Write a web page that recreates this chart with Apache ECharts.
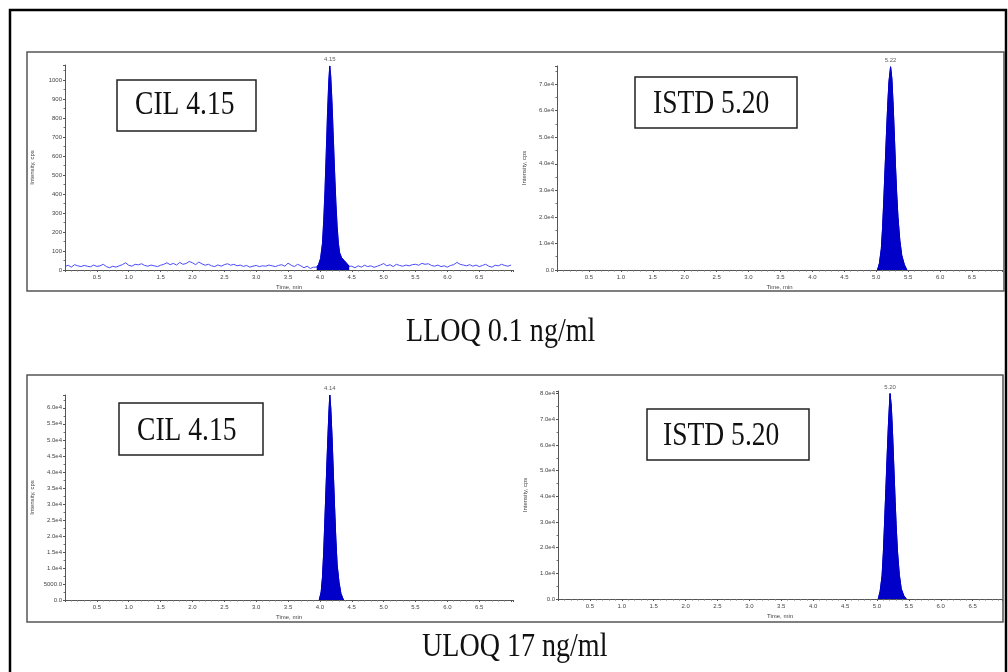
<!DOCTYPE html>
<html>
<head>
<meta charset="utf-8">
<title>CIL / ISTD chromatograms</title>
<script src="https://cdn.jsdelivr.net/npm/echarts@6/dist/echarts.min.js"></script>
<style>
  html, body { margin: 0; padding: 0; background: #fff; }
  #chart { width: 1008px; height: 672px; }
</style>
</head>
<body>
<div id="chart"></div>
<script>
// tick labels on the time axis
var timeTicks = [0.5, 1.0, 1.5, 2.0, 2.5, 3.0, 3.5, 4.0, 4.5, 5.0, 5.5, 6.0, 6.5];

// LLOQ CIL baseline noise, sampled every 0.05 min (0.00 - 3.90 and 4.50 - 7.00)
var noiseStep = 0.05;
var noiseA = [18, 25, 15, 28, 22, 18, 24, 20, 17, 26, 19, 22, 30, 18, 12, 20, 15, 22, 28, 38,
              25, 20, 30, 27, 33, 24, 20, 26, 22, 18, 25, 30, 38, 28, 35, 26, 40, 30, 34, 45,
              38, 28, 42, 32, 25, 30, 22, 18, 27, 20, 28, 33, 25, 30, 22, 26, 19, 24, 15, 20,
              24, 18, 22, 20, 26, 22, 18, 24, 28, 20, 36, 25, 18, 30, 22, 12, 20, 8, 15];
var noiseB = [20, 12, 22, 15, 25, 18, 22, 14, 20, 26, 34, 22, 28, 18, 30, 24, 20, 26, 22, 28,
              30, 25, 35, 30, 33, 24, 20, 26, 18, 22, 15, 24, 28, 40, 30, 26, 22, 28, 20, 26,
              18, 24, 30, 20, 15, 25, 22, 30, 24, 20, 26];

// peaks: retention times (min) and intensities (cps)
var lloqCilTime = [3.95, 3.98, 4.01, 4.04, 4.06, 4.08, 4.10, 4.12, 4.14, 4.155, 4.17, 4.19, 4.21, 4.23, 4.25, 4.27, 4.29, 4.31, 4.34, 4.38, 4.42, 4.46];
var lloqCilInt  = [15, 30, 60, 140, 260, 420, 620, 830, 1000, 1075, 1020, 880, 700, 520, 360, 230, 140, 90, 65, 50, 35, 20];

var lloqIstdTime = [5.02, 5.05, 5.08, 5.10, 5.12, 5.14, 5.16, 5.18, 5.20, 5.225, 5.245, 5.265, 5.285, 5.30, 5.32, 5.34, 5.37, 5.40, 5.44, 5.48];
var lloqIstdInt  = [0, 2500, 8000, 16000, 27000, 39000, 51000, 62000, 71000, 76500, 72000, 62000, 50000, 40000, 29000, 20000, 11000, 5500, 2000, 0];

var uloqCilTime = [3.99, 4.02, 4.04, 4.06, 4.08, 4.10, 4.12, 4.14, 4.155, 4.17, 4.19, 4.21, 4.23, 4.25, 4.27, 4.30, 4.33, 4.37];
var uloqCilInt  = [0, 2500, 7000, 15000, 26000, 37000, 48000, 58000, 64000, 60000, 51000, 40000, 29000, 19000, 11000, 5500, 2000, 0];

var uloqIstdTime = [5.02, 5.05, 5.08, 5.10, 5.12, 5.14, 5.16, 5.18, 5.205, 5.225, 5.245, 5.265, 5.285, 5.30, 5.32, 5.35, 5.38, 5.42, 5.46];
var uloqIstdInt  = [0, 3000, 9000, 18000, 30000, 43000, 56000, 68000, 80000, 75000, 64000, 51000, 38000, 29000, 19000, 9500, 4000, 1300, 0];

// peak apex labels and panel captions
var apexLabels = ['4.15', '5.22', '4.14', '5.20'];
var boxLabels = ['CIL 4.15', 'ISTD 5.20', 'CIL 4.15', 'ISTD 5.20'];
var levelLabels = ['LLOQ 0.1 ng/ml', 'ULOQ 17 ng/ml'];

function zip(t, v) {
  return t.map(function (x, i) { return [x, v[i]]; });
}

function noiseTrace(values, t0) {
  return values.map(function (v, i) { return [+(t0 + i * noiseStep).toFixed(2), v]; });
}

var peaks = [
  zip(lloqCilTime, lloqCilInt),
  zip(lloqIstdTime, lloqIstdInt),
  zip(uloqCilTime, uloqCilInt),
  zip(uloqIstdTime, uloqIstdInt)
];

// only the LLOQ analyte trace has visible baseline noise
var traces = [
  noiseTrace(noiseA, 0).concat(peaks[0], noiseTrace(noiseB, 4.5)),
  peaks[1],
  peaks[2],
  peaks[3]
];

var grids = [
  { left: 65, top: 65, width: 448, height: 205 },
  { left: 557, top: 66, width: 445, height: 204 },
  { left: 65, top: 395, width: 448, height: 205 },
  { left: 558, top: 391, width: 444, height: 208 }
];
var xMax = [7.03, 6.97, 7.03, 6.96];
var yMax = [1080, 76800, 64000, 81000];
var yStep = [100, 10000, 5000, 10000];

var axisGrey = '#555';
var tickFont = { fontSize: 6, color: '#444', fontFamily: 'Liberation Sans' };

function yFormatter(k) {
  return function (v) {
    if (Math.abs(v % yStep[k]) > 1e-6) return '';
    if (k === 0) return String(v);
    if (v === 0) return '0.0';
    if (v < 10000) return v.toFixed(1);
    return (v / 10000).toFixed(1) + 'e4';
  };
}

function xFormatter(v) {
  for (var i = 0; i < timeTicks.length; i++) {
    if (Math.abs(timeTicks[i] - v) < 1e-6) return timeTicks[i].toFixed(1);
  }
  return '';
}

var xAxes = [], yAxes = [], series = [];
grids.forEach(function (g, k) {
  xAxes.push({
    gridIndex: k, type: 'value', min: 0, max: xMax[k], interval: 0.5,
    name: 'Time, min', nameLocation: 'middle', nameGap: 14,
    nameTextStyle: tickFont,
    axisLine: { show: true, onZero: false, lineStyle: { color: axisGrey, width: 1 } },
    axisTick: { show: true, length: 2, lineStyle: { color: axisGrey } },
    minorTick: { show: true, splitNumber: 5, length: 1.5, lineStyle: { color: '#777' } },
    axisLabel: Object.assign({ margin: 4, formatter: xFormatter }, tickFont),
    splitLine: { show: false }
  });
  yAxes.push({
    gridIndex: k, type: 'value', min: 0, max: yMax[k], interval: yStep[k],
    name: 'Intensity, cps', nameLocation: 'middle', nameGap: 30,
    nameTextStyle: tickFont,
    axisLine: { show: true, lineStyle: { color: axisGrey, width: 1 } },
    axisTick: { show: true, length: 2, lineStyle: { color: axisGrey } },
    minorTick: { show: true, splitNumber: 2, length: 1.5, lineStyle: { color: '#777' } },
    axisLabel: Object.assign({ margin: 3, formatter: yFormatter(k) }, tickFont),
    splitLine: { show: false }
  });

  series.push({
    type: 'line', xAxisIndex: k, yAxisIndex: k, data: traces[k],
    showSymbol: false, silent: true, z: 2,
    lineStyle: { color: k === 0 ? '#4b4bff' : '#0000c8', width: 1 }
  });
  series.push({
    type: 'line', xAxisIndex: k, yAxisIndex: k, data: peaks[k],
    showSymbol: false, silent: true, z: 3,
    lineStyle: { color: '#0000c8', width: 1 },
    areaStyle: { color: '#0000c8', opacity: 1 }
  });

  var apex = peaks[k].reduce(function (a, b) { return b[1] > a[1] ? b : a; });
  series.push({
    type: 'scatter', xAxisIndex: k, yAxisIndex: k, data: [apex],
    symbolSize: 1, silent: true, z: 4,
    itemStyle: { color: 'rgba(0,0,0,0)' },
    label: {
      show: true, position: 'top', distance: 3,
      formatter: apexLabels[k],
      fontSize: 6, color: '#333', fontFamily: 'Liberation Sans'
    }
  });
});

// boxed annotations inside each chromatogram
var boxes = [
  { x: 117, y: 80, w: 139, h: 51, tx: 135, ty: 105.5 },
  { x: 635, y: 77, w: 162, h: 51, tx: 653, ty: 104 },
  { x: 119, y: 403, w: 144, h: 52, tx: 137, ty: 431 },
  { x: 647, y: 409, w: 162, h: 51, tx: 663, ty: 436 }
];

var serif = 'Liberation Serif, Times New Roman, serif';
var graphics = [
  { type: 'rect', shape: { x: 10, y: 10, width: 996, height: 700 },
    style: { fill: 'none', stroke: '#000', lineWidth: 2.5 }, silent: true },
  { type: 'rect', shape: { x: 27, y: 52, width: 977, height: 239 },
    style: { fill: 'none', stroke: '#555', lineWidth: 1.5 }, silent: true },
  { type: 'rect', shape: { x: 27, y: 375, width: 976, height: 247 },
    style: { fill: 'none', stroke: '#555', lineWidth: 1.5 }, silent: true }
];
boxes.forEach(function (b, i) {
  graphics.push({
    type: 'rect', z: 100, shape: { x: b.x, y: b.y, width: b.w, height: b.h },
    style: { fill: '#fff', stroke: '#222', lineWidth: 1.5 }, silent: true
  });
  graphics.push({
    type: 'text', z: 101, x: b.tx, y: b.ty, scaleX: 0.835, silent: true,
    style: { text: boxLabels[i], x: 0, y: 0, align: 'left', verticalAlign: 'middle',
             font: '33px ' + serif, fill: '#111' }
  });
});
[{ x: 406, y: 332 }, { x: 422, y: 647.5 }].forEach(function (p, i) {
  graphics.push({
    type: 'text', z: 101, x: p.x, y: p.y, scaleX: 0.85, silent: true,
    style: { text: levelLabels[i], x: 0, y: 0, align: 'left', verticalAlign: 'middle',
             font: '33px ' + serif, fill: '#111' }
  });
});

var chart = echarts.init(document.getElementById('chart'));
chart.setOption({
  animation: false,
  backgroundColor: '#fff',
  grid: grids,
  xAxis: xAxes,
  yAxis: yAxes,
  series: series,
  graphic: graphics
});
</script>
</body>
</html>
